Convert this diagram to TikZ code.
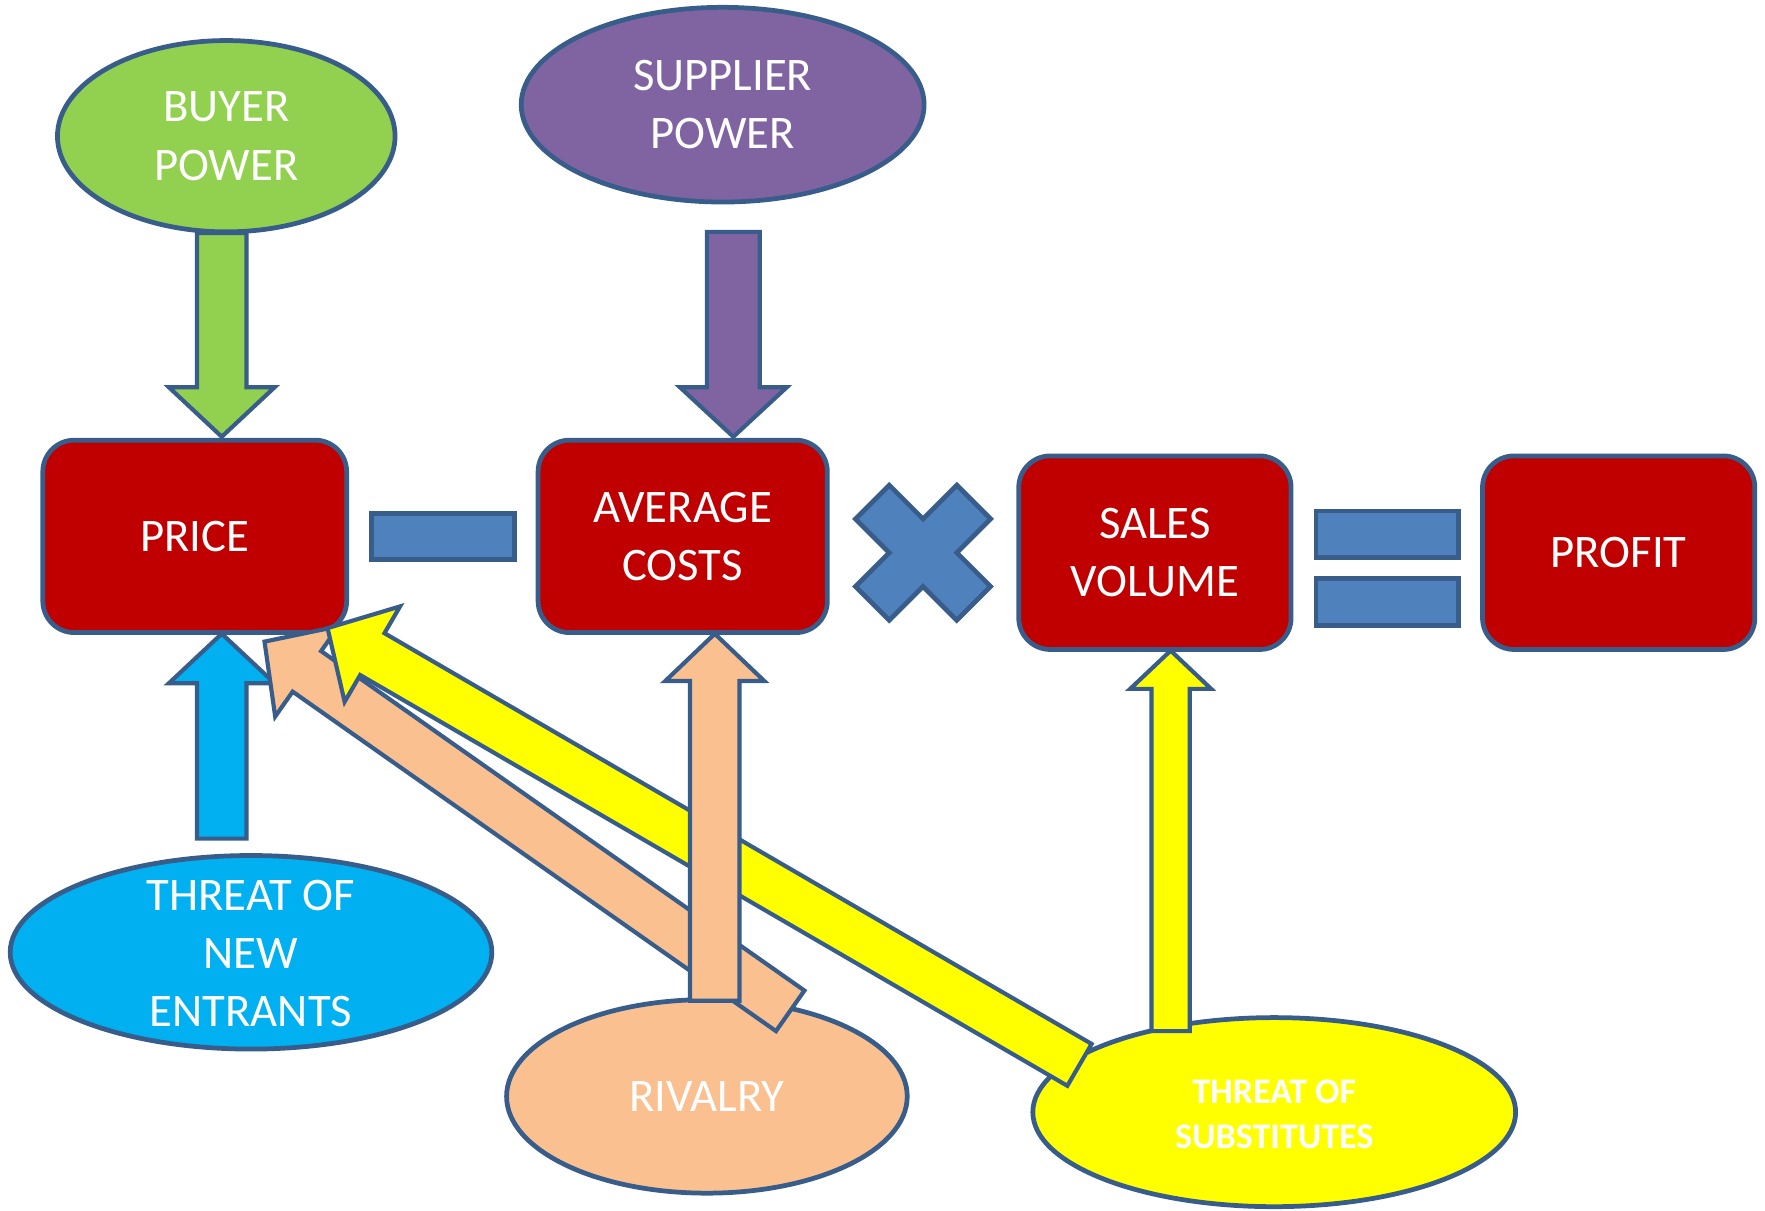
\documentclass[tikz,border=0pt]{standalone}
\usepackage{fontspec}
\setmainfont{Carlito}
\usetikzlibrary{calc,shapes.geometric}

\definecolor{edge}{HTML}{385D8A}
\definecolor{boxred}{HTML}{C00000}
\definecolor{opblue}{HTML}{4F81BD}
\definecolor{buyergreen}{HTML}{92D050}
\definecolor{supplierpurple}{HTML}{8064A2}
\definecolor{entrantcyan}{HTML}{00B0F0}
\definecolor{rivalpeach}{HTML}{FAC090}
\definecolor{substyellow}{HTML}{FFFF00}

\newcommand\mainfont{\fontsize{23.6}{29.5}\selectfont}
\newcommand\smallbold{\fontsize{18.2}{22.4}\selectfont\bfseries}

% Block arrow: #1 fill, #2 tail, #3 tip, #4 half shaft width, #5 half head width, #6 head length
\newcommand\blockarrow[6]{%
  \coordinate (ba-base) at ($(#3)!#6!(#2)$);
  \filldraw[arrowline, fill=#1]
    ($(#2)!#4!90:(#3)$) -- ($(ba-base)!#4!90:(#3)$) -- ($(ba-base)!#5!90:(#3)$)
    -- (#3)
    -- ($(ba-base)!#5!-90:(#3)$) -- ($(ba-base)!#4!-90:(#3)$) -- ($(#2)!#4!-90:(#3)$)
    -- cycle;
}

\begin{document}
\begin{tikzpicture}[x=0.02cm, y=-0.02cm,
  box/.style={rectangle, draw=edge, line width=2.4pt, fill=boxred, rounded corners=0.56cm,
    minimum width=5.4cm, minimum height=3.42cm, inner sep=0pt,
    text=white, font=\mainfont, align=center},
  oval/.style={ellipse, draw=edge, line width=2.4pt, inner sep=0pt},
  lbl/.style={text=white, font=\mainfont, align=center, inner sep=0pt},
  bar/.style={rectangle, draw=edge, line width=2.4pt, fill=opblue, inner sep=0pt},
  opshape/.style={draw=edge, line width=2.4pt, fill=opblue, line join=miter},
  arrowline/.style={draw=edge, line width=2.1pt, line join=miter, miter limit=20}]

\useasboundingbox (0,0) rectangle (1568,1075);

% Forces
\node[oval, fill=buyergreen, minimum width=6cm, minimum height=3.4cm] (buyer) at (201,121) {};
\node[lbl] (buyer-text) at (buyer) {BUYER\\POWER};
\node[oval, fill=supplierpurple, minimum width=7.16cm, minimum height=3.46cm] (supplier) at (642,93) {};
\node[lbl] (supplier-text) at (supplier) {SUPPLIER\\POWER};
\node[oval, fill=entrantcyan, minimum width=8.56cm, minimum height=3.44cm] (entrants) at (223,846) {};
\node[lbl] (entrants-text) at (223,847) {THREAT OF\\NEW\\ENTRANTS};
\node[oval, fill=rivalpeach, minimum width=7.12cm, minimum height=3.44cm] (rivalry) at (628,974) {};
\node[lbl] (rivalry-text) at (rivalry) {RIVALRY};
\node[oval, fill=substyellow, minimum width=8.58cm, minimum height=3.36cm] (substitutes) at (1132,988) {};
\node[lbl, font=\smallbold] (substitutes-text) at (1132,990) {THREAT OF\\SUBSTITUTES};

% Profit equation
\node[box] (price) at (173,476.5) {PRICE};
\node[box, minimum width=5.14cm] (avg) at (606.5,476.5) {AVERAGE\\COSTS};
\node[box, minimum width=4.84cm, minimum height=3.44cm] (sales) at (1026,491) {SALES\\VOLUME};
\node[box, minimum width=4.84cm, minimum height=3.44cm] (profit) at (1438,491) {PROFIT};

\node[bar, minimum width=2.54cm, minimum height=0.82cm] (minus) at (393.5,476.5) {};
\node[bar, minimum width=2.54cm, minimum height=0.82cm] (eq-top) at (1232.5,474.5) {};
\node[bar, minimum width=2.54cm, minimum height=0.84cm] (eq-bot) at (1232.5,535) {};

\coordinate (times) at (820,491);
\begin{scope}[shift={(times)}]
  \filldraw[opshape] (-30,-60) -- (0,-30) -- (30,-60) -- (60,-30) -- (30,0) -- (60,30)
    -- (30,60) -- (0,30) -- (-30,60) -- (-60,30) -- (-30,0) -- (-60,-30) -- cycle;
\end{scope}

% Arrow end points
\coordinate (green-tail) at (197,207);
\coordinate (green-tip) at (197,388);
\coordinate (purple-tail) at (651.5,206);
\coordinate (purple-tip) at (651.5,388);
\coordinate (cyan-tail) at (197,745);
\coordinate (cyan-tip) at (197,563);
\coordinate (peach-tail) at (635,889);
\coordinate (peach-tip) at (635,563);
\coordinate (yellow-tail) at (1040,916);
\coordinate (yellow-tip) at (1040,578);
\coordinate (peach-diag-tail) at (702,898);
\coordinate (peach-diag-tip) at (235,570);
\coordinate (yellow-diag-tail) at (959,946);
\coordinate (yellow-diag-tip) at (291,558);

% Arrows
\blockarrow{entrantcyan}{cyan-tail}{cyan-tip}{0.44cm}{0.94cm}{0.88cm}
\blockarrow{buyergreen}{green-tail}{green-tip}{0.44cm}{0.94cm}{0.88cm}
\blockarrow{supplierpurple}{purple-tail}{purple-tip}{0.47cm}{0.95cm}{0.88cm}
\blockarrow{rivalpeach}{peach-diag-tail}{peach-diag-tip}{0.44cm}{0.98cm}{0.92cm}
\blockarrow{substyellow}{yellow-diag-tail}{yellow-diag-tip}{0.43cm}{0.98cm}{0.92cm}
\blockarrow{rivalpeach}{peach-tail}{peach-tip}{0.44cm}{0.88cm}{0.84cm}
\blockarrow{substyellow}{yellow-tail}{yellow-tip}{0.34cm}{0.72cm}{0.68cm}

\end{tikzpicture}
\end{document}
